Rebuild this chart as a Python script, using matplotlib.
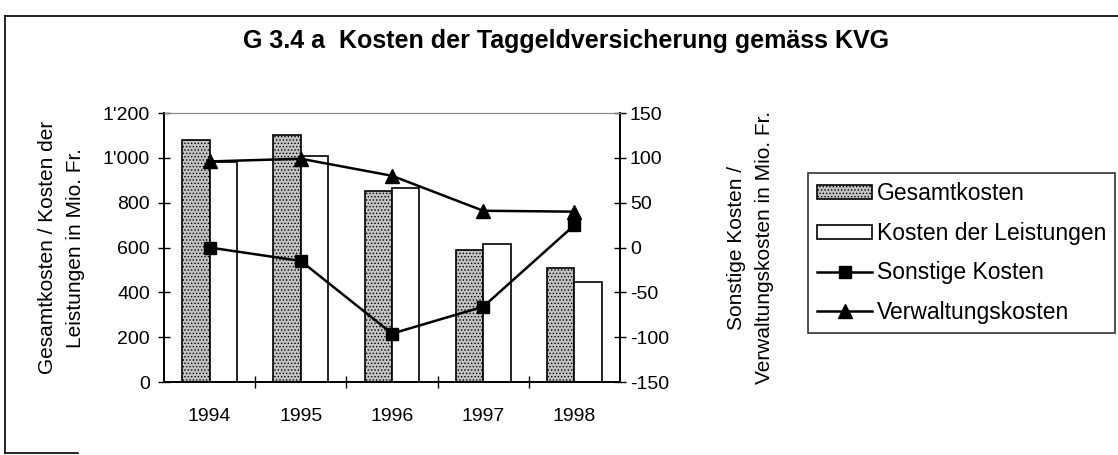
import numpy as np
import matplotlib.pyplot as plt
from matplotlib.lines import Line2D
from matplotlib.ticker import FuncFormatter

plt.rcParams['font.family'] = ['Liberation Sans', 'DejaVu Sans']
plt.rcParams['hatch.linewidth'] = 0.6
plt.rcParams['axes.unicode_minus'] = False

# data (Mio. Fr.)
years = ['1994', '1995', '1996', '1997', '1998']
gesamtkosten = [1080, 1100, 850, 590, 510]
kosten_leistungen = [980, 1010, 865, 615, 445]
sonstige_kosten = [0, -15, -96, -66, 25]
verwaltungskosten = [96, 99, 80, 41, 40]

x = np.arange(len(years))
width = 0.30

fig = plt.figure(figsize=(11.18, 4.55), dpi=100)
ax = fig.add_axes([0.1467, 0.1604, 0.4079, 0.5912])
ax2 = ax.twinx()

b1 = ax.bar(x - width / 2, gesamtkosten, width, color='#c2c2c2', hatch='.....',
            edgecolor='black', linewidth=1.2, label='Gesamtkosten')
b2 = ax.bar(x + width / 2, kosten_leistungen, width, color='white',
            edgecolor='black', linewidth=1.2, label='Kosten der Leistungen')

l1, = ax2.plot(x, sonstige_kosten, color='black', lw=1.8, marker='s', ms=9,
               label='Sonstige Kosten')
l2, = ax2.plot(x, verwaltungskosten, color='black', lw=1.8, marker='^', ms=9.5,
               label='Verwaltungskosten')

ax.set_xlim(-0.5, len(years) - 0.5)
ax.set_ylim(0, 1200)
ax.set_yticks(np.arange(0, 1201, 200))
ax.yaxis.set_major_formatter(FuncFormatter(lambda v, p: f"{int(v):,}".replace(',', "'")))
ax2.set_ylim(-150, 150)
ax2.set_yticks(np.arange(-150, 151, 50))

ax.set_xticks(x)
ax.set_xticklabels(years)
ax.set_xticks(np.arange(0.5, len(years) - 0.5, 1), minor=True)
ax.tick_params(axis='x', which='major', length=0, pad=19, labelsize=14)
ax.tick_params(axis='x', which='minor', length=8, direction='inout', width=1)
ax.tick_params(axis='y', length=8, direction='inout', width=1, labelsize=14, pad=6)
ax2.tick_params(axis='y', length=8, direction='inout', width=1, labelsize=14, pad=3)

for a in (ax, ax2):
    a.spines['top'].set_color('#888888')
    a.spines['top'].set_linestyle((0, (1, 1)))
    a.spines['left'].set_linewidth(1.2)
    a.spines['right'].set_linewidth(1.2)
    a.spines['bottom'].set_linewidth(1.2)

ax.set_ylabel("Gesamtkosten / Kosten der\nLeistungen in Mio. Fr.", fontsize=15,
              labelpad=13, linespacing=1.6)
ax2.set_ylabel("Sonstige Kosten /\nVerwaltungskosten in Mio. Fr.", fontsize=15,
               labelpad=42, linespacing=1.6)

fig.text(0.506, 0.91, "G 3.4 a  Kosten der Taggeldversicherung gemäss KVG",
         ha='center', va='center', fontsize=18, fontweight='bold')

leg = fig.legend([b1, b2, l1, l2],
                 ['Gesamtkosten', 'Kosten der Leistungen', 'Sonstige Kosten', 'Verwaltungskosten'],
                 loc='upper left', bbox_to_anchor=(0.7227, 0.6198), fontsize=16.5,
                 frameon=True, fancybox=False, handlelength=2.4, handleheight=0.57,
                 handletextpad=0.2, labelspacing=0.72, borderpad=0.4, borderaxespad=0)
leg.get_frame().set_edgecolor('black')
leg.get_frame().set_linewidth(1.2)

# outer frame of the figure
fig.add_artist(Line2D([0.0045, 0.0045], [0.004, 0.965], color='black', lw=1.2))
fig.add_artist(Line2D([0.0045, 1.0], [0.965, 0.965], color='black', lw=1.2))
fig.add_artist(Line2D([0.0045, 0.07], [0.004, 0.004], color='black', lw=1.2))

plt.savefig('out.png', dpi=100)
